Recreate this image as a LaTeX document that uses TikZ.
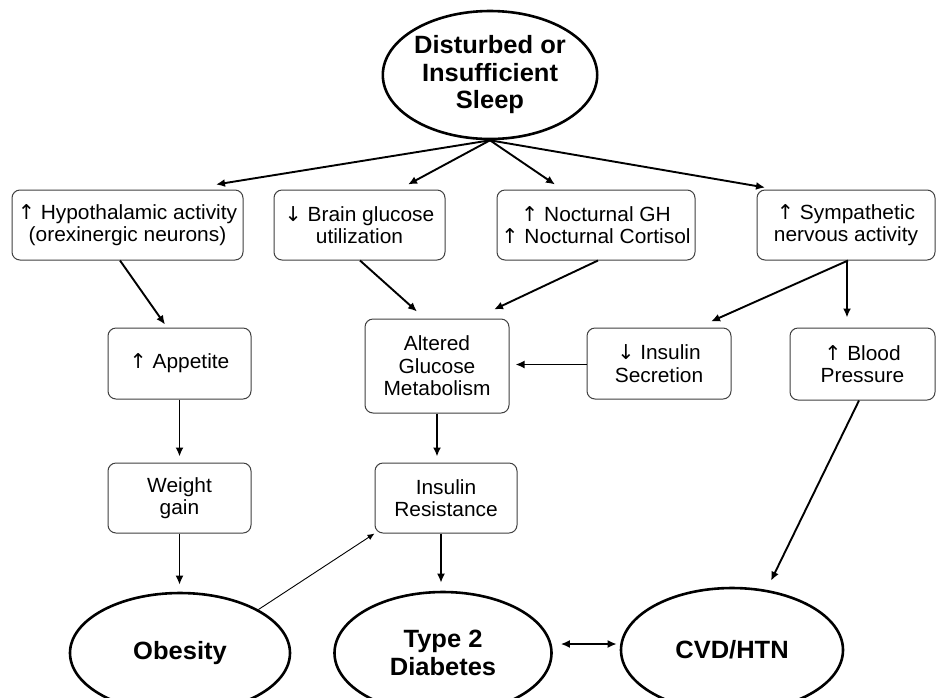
\documentclass[tikz,border=0pt]{standalone}
\usepackage{fontspec}
\setmainfont{Liberation Sans}
\newfontfamily\boxfont[FakeStretch=1.02]{Liberation Sans}
\newfontfamily\arrowfont{DejaVu Sans}
\newcommand{\upa}{{\arrowfont\char"2191}}
\newcommand{\dna}{{\arrowfont\char"2193}}
\usetikzlibrary{shapes.geometric,arrows.meta,calc}
\begin{document}
\begin{tikzpicture}[x=1pt,y=-1pt,
  box/.style={draw=black!75, line width=1pt, rounded corners=8pt, fill=white,
    align=center, inner sep=0pt, font=\boxfont\fontsize{20.5}{22.5}\selectfont},
  ell/.style={draw, ellipse, line width=2.6pt, inner sep=0pt, align=center,
    font=\boxfont\bfseries\fontsize{25}{27.5}\selectfont},
  arr/.style={-{Latex[length=9pt,width=8pt]}, line width=1.9pt},
  thinarr/.style={-{Latex[length=7pt,width=6pt]}, line width=0.9pt}]
\useasboundingbox (0,0) rectangle (936,697);
\fill[white] (0,0) rectangle (936,697);

% ellipses
\node[ell, minimum width=214pt, minimum height=128pt] (sleep) at (490,75) {Disturbed or\\Insufficient\\Sleep};
\node[ell, minimum width=220pt, minimum height=120pt] (obe) at (180,653) {Obesity};
\node[ell, minimum width=217pt, minimum height=122pt] (t2d) at (443,653) {Type 2\\Diabetes};
\node[ell, minimum width=222pt, minimum height=124pt] (cvd) at (732,650) {CVD/HTN};

% boxes
\node[box, minimum width=231pt, minimum height=70pt] (b1) at (127.5,225) {\upa\ Hypothalamic activity\\(orexinergic neurons)};
\node[box, minimum width=171pt, minimum height=70pt] (b2) at (359.5,225) {\dna\ Brain glucose\\utilization};
\node[box, minimum width=198pt, minimum height=70pt] (b3) at (596,225) {\upa\ Nocturnal GH\\\upa\ Nocturnal Cortisol};
\node[box, minimum width=178pt, minimum height=70pt] (b4) at (846,225) {\upa\ Sympathetic\\nervous activity};
\node[box, minimum width=143pt, minimum height=71pt] (app) at (179.5,363.5) {\upa\ Appetite};
\node[box, minimum width=144pt, minimum height=94pt] (agm) at (437,366) {Altered\\Glucose\\Metabolism};
\node[box, minimum width=144pt, minimum height=71pt] (isec) at (659,363.5) {\dna\ Insulin\\Secretion};
\node[box, minimum width=145pt, minimum height=72pt] (bp) at (862.5,364) {\upa\ Blood\\Pressure};
\node[box, minimum width=143pt, minimum height=70pt] (wg) at (179.5,498) {Weight\\gain};
\node[box, minimum width=142pt, minimum height=70pt] (ir) at (446,498) {Insulin\\Resistance};

% connectors
\draw[arr] (sleep.south) -- ($(b1.north)+(88.5,-5)$);
\draw[arr] (sleep.south) -- ($(b2.north)+(48.5,-5)$);
\draw[arr] (sleep.south) -- ($(b3.north)+(-41,-5)$);
\draw[arr] (sleep.south) -- ($(b4.north)+(-81,-2)$);

\draw[arr] ($(b1.south)+(-7.5,0)$) -- ($(app.north)+(-14.5,-3)$);
\draw[arr] ($(b2.south)+(0.5,0)$) -- ($(agm.north)+(-20,-7)$);
\draw[arr] ($(b3.south)+(2,0)$) -- ($(agm.north)+(57,-9)$);
\draw[arr] ($(b4.south)+(2,0)$) -- ($(isec.north)+(52,-6)$);
\draw[arr] ($(b4.south)+(1,0)$) -- ($(bp.north)+(-15.5,-10)$);
\draw[arr] ($(isec.west)+(0,1)$) -- ($(isec.west -| agm.east)+(6,1)$);
\draw[arr] ($(bp.south)+(-3.5,0)$) -- ($(cvd.north)+(39,-6)$);

\draw[arr] (app.south) -- ($(app.south |- wg.north)+(0,-6)$);
\draw[arr] (agm.south) -- ($(agm.south |- ir.north)+(0,-6)$);
\draw[arr] (wg.south) -- ($(wg.south |- obe.north)+(0,-7)$);
\draw[arr] ($(ir.south)+(-5,0)$) -- ($(t2d.north)+(-2,-8)$);
\draw[thinarr] (obe.29) -- (ir.south west);
\draw[arr, {Latex[length=9pt,width=8pt]}-{Latex[length=9pt,width=8pt]}] ($(t2d.east)+(8,-9)$) -- ($(cvd.west)+(-3,-6)$);
\end{tikzpicture}
\end{document}
